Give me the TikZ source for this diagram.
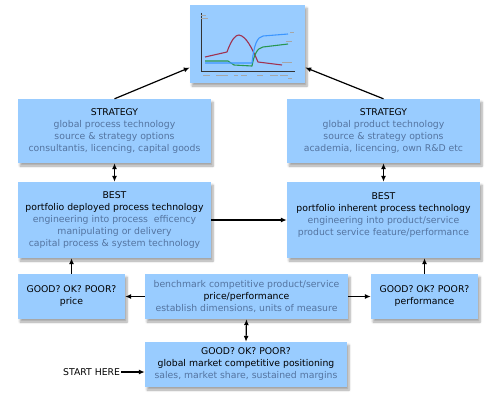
\documentclass[tikz,border=0pt]{standalone}
\usepackage{fontspec}
\setmainfont{DejaVu Sans}
\usetikzlibrary{arrows.meta,shadows.blur,calc}
\definecolor{boxblue}{RGB}{153,204,255}
\definecolor{subtxt}{RGB}{84,116,160}
\definecolor{cred}{RGB}{160,50,80}
\definecolor{cgreen}{RGB}{40,150,80}
\definecolor{cblue}{RGB}{60,150,255}
\newcommand{\subtx}[1]{\textcolor{subtxt}{#1}}
\tikzset{
 box/.style={fill=boxblue, draw=none, align=center, inner sep=0pt,
   font=\fontsize{9.3}{12}\selectfont,
   blur shadow={shadow xshift=2pt, shadow yshift=-3pt, shadow blur steps=6, shadow opacity=35}},
 arr/.style={line width=1.2pt, -{Latex[length=6pt,width=5pt]}},
 darr/.style={line width=1.2pt, {Latex[length=6pt,width=5pt]}-{Latex[length=6pt,width=5pt]}},
 curve/.style={line width=1.1pt, line join=round},
 tick/.style={draw=gray!70, line width=0.6pt},
}
\begin{document}
\begin{tikzpicture}[x=1pt,y=-1pt]
\useasboundingbox (0,0) rectangle (500,400);
% chart
\node[box, minimum width=115pt, minimum height=78pt] (chart) at (247.5,44) {};
\draw[line width=0.8pt, black!80] (201,13) -- (201,71) -- (295,71);
\draw[curve, cred] (205,57) -- (227,52) .. controls (232,38) and (236,35) .. (239,35)
   .. controls (246,36) and (252,48) .. (258,62) -- (282,65);
\draw[curve, cgreen] (205,61) -- (228,61) -- (234,65) -- (252,66) .. controls (254,55) and (257,48) .. (263,47) -- (288,44);
\draw[curve, cblue] (205,63) -- (252,63) .. controls (254,45) and (257,37) .. (263,36) -- (288,34);
\foreach \a/\b/\y in {203/210/75, 216/228/75, 234/238/75, 241/247/75, 257/263/75, 270/278/75, 280/288/75, 288/292/78, 201/206/15, 201/208/18, 290/294/32, 286/292/41, 282/292/62}
  \draw[tick] (\a,\y) -- (\b,\y);
% strategy
\node[box, minimum width=193pt, minimum height=64pt] (sl) at (114.5,131)
 {STRATEGY\\ \subtx{global process technology}\\ \subtx{source \& strategy options}\\ \subtx{consultantis, licencing, capital goods}};
\node[box, minimum width=193pt, minimum height=64pt] (sr) at (383.5,131)
 {STRATEGY\\ \subtx{global product technology}\\ \subtx{source \& strategy options}\\ \subtx{academia, licencing, own R\&D etc}};
% best
\node[box, minimum width=193pt, minimum height=76pt] (bl) at (114.5,220)
 {BEST\\ portfolio deployed process technology\\ \subtx{engineering into process\ \ efficency}\\ \subtx{manipulating or delivery}\\ \subtx{capital process \& system technology}};
\node[box, minimum width=193pt, minimum height=76pt] (br) at (383.5,220)
 {BEST\\ portfolio inherent process technology\\ \subtx{engineering into product/service}\\ \subtx{product service feature/performance}\\ \mbox{}};
% middle row
\node[box, minimum width=107pt, minimum height=45pt] (gl) at (71.5,296.5)
 {GOOD? OK? POOR?\\ price};
\node[box, minimum width=203pt, minimum height=45pt] (mid) at (246.5,296.5)
 {\subtx{benchmark competitive product/service}\\ price/performance\\ \subtx{establish dimensions, units of measure}};
\node[box, minimum width=107pt, minimum height=45pt] (gr) at (424.5,296.5)
 {GOOD? OK? POOR?\\ performance};
% bottom
\node[box, minimum width=202pt, minimum height=45pt] (bot) at (246,364.5)
 {GOOD? OK? POOR?\\ global market competitive positioning\\ \subtx{sales, market share, sustained margins}};
\node[font=\fontsize{9.3}{12}\selectfont, inner sep=1pt, anchor=west] (start) at (62,372) {START HERE};
% connectors
\draw[arr] (sl.north) -- ($(chart.south west)!0.2!(chart.north west)$);
\draw[arr] (sr.north) -- ($(chart.south east)!0.2!(chart.north east)$);
\draw[darr] (sl.south) -- (bl.north);
\draw[darr] (sr.south) -- (br.north);
\draw[arr] (bl.east) -- (br.west);
\draw[arr] (gl.north) -- (gl.north |- bl.south);
\draw[arr] (gr.north) -- (gr.north |- br.south);
\draw[arr] (mid.west) -- (gl.east);
\draw[arr] (mid.east) -- (gr.west);
\draw[darr] (mid.south) -- (bot.north);
\draw[arr] (start.east) -- (start.east -| bot.west);
\end{tikzpicture}
\end{document}
